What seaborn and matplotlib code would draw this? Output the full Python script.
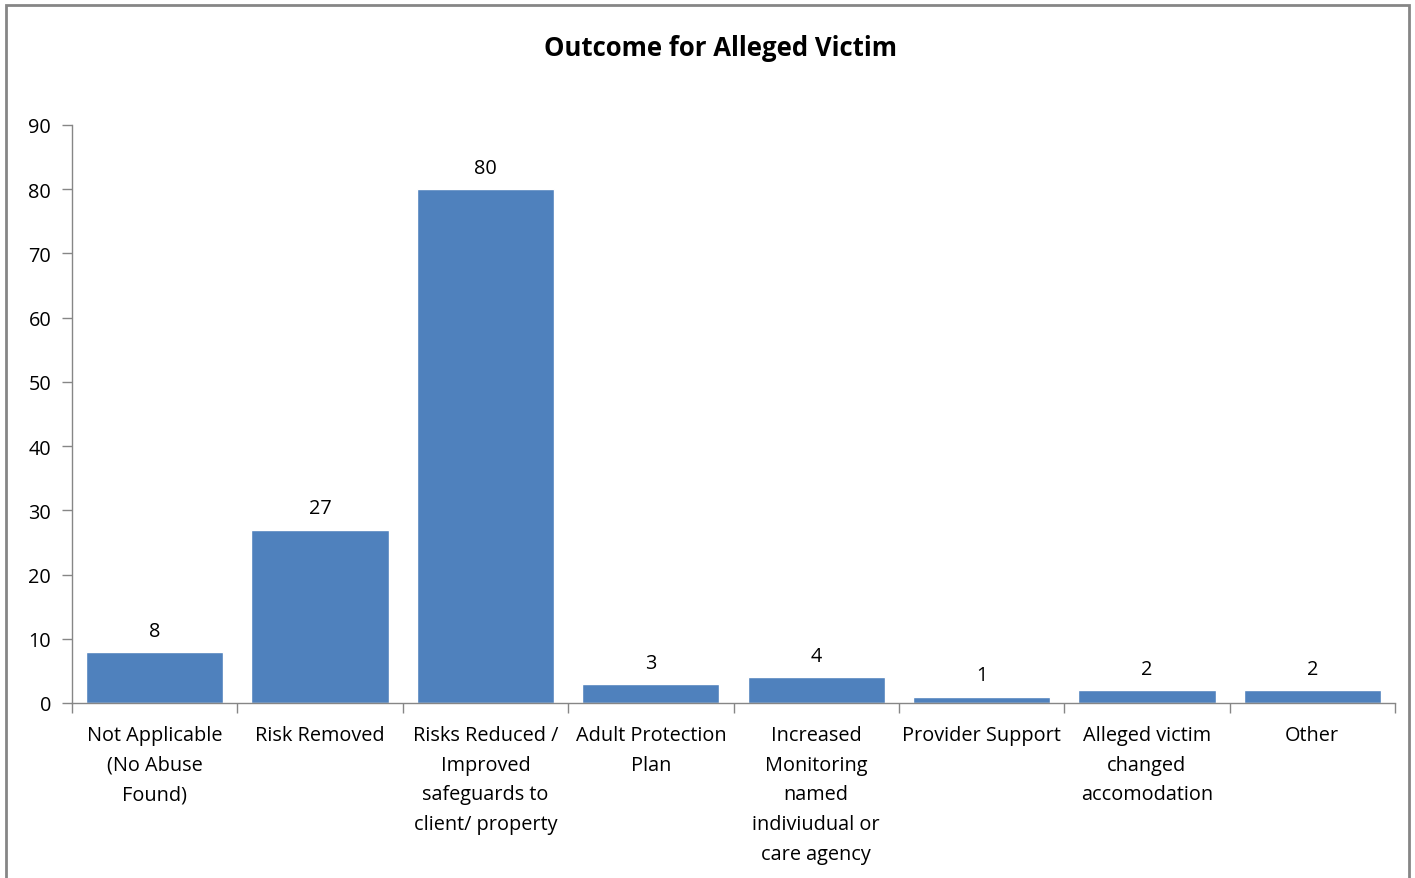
import matplotlib
matplotlib.use("Agg")
import matplotlib.pyplot as plt
import seaborn as sns
import numpy as np
import pandas as pd
from matplotlib.patches import Rectangle

categories = [
    "Not Applicable\n(No Abuse\nFound)",
    "Risk Removed",
    "Risks Reduced /\nImproved\nsafeguards to\nclient/ property",
    "Adult Protection\nPlan",
    "Increased\nMonitoring\nnamed\nindiviudual or\ncare agency",
    "Provider Support",
    "Alleged victim\nchanged\naccomodation",
    "Other",
]
counts = [8, 27, 80, 3, 4, 1, 2, 2]
y_ticks = list(range(0, 100, 10))

sns.set_theme(style="white")
plt.rcParams["font.family"] = ["Open Sans", "DejaVu Sans"]

df = pd.DataFrame({"outcome": categories, "count": counts})

fig = plt.figure(figsize=(14.15, 8.79), dpi=100)
ax = fig.add_axes([72 / 1415, 1 - 704 / 879, (1395 - 72) / 1415, (704 - 126) / 879])

sns.barplot(data=df, x="outcome", y="count", color="#4F81BD", saturation=1,
            width=0.83, ax=ax)

ax.bar_label(ax.containers[0], labels=[str(v) for v in counts], padding=8,
             fontsize=14.3, color="#000000")

ax.set_ylim(0, 90)
ax.set_yticks(y_ticks)
ax.set_xlim(-0.5, len(categories) - 0.5)
ax.set_xlabel("")
ax.set_ylabel("")

ax.tick_params(axis="y", which="major", direction="out", length=7, width=1,
               color="#868686", labelsize=14.3, labelcolor="#000000", pad=8, left=True)
ax.tick_params(axis="x", which="major", length=0, labelsize=14.3,
               labelcolor="#000000", pad=16)
ax.set_xticks(np.arange(-0.5, len(categories), 1), minor=True)
ax.tick_params(axis="x", which="minor", direction="out", length=7, width=1,
               color="#868686", bottom=True)
for lbl in ax.get_xticklabels():
    lbl.set_linespacing(1.64)
    lbl.set_ha("center")

for side in ["top", "right"]:
    ax.spines[side].set_visible(False)
for side in ["left", "bottom"]:
    ax.spines[side].set_color("#868686")
    ax.spines[side].set_linewidth(1)

fig.text(721 / 1415, 1 - 49 / 879, "Outcome for Alleged Victim", ha="center",
         va="center", fontsize=18.5, fontweight="bold", color="#000000")

fig.patches.append(Rectangle((6 / 1415, -0.01), (1409 - 6) / 1415, 1 - 6 / 879 + 0.01,
                             transform=fig.transFigure, fill=False,
                             edgecolor="#868686", linewidth=2))

fig.savefig("out.png", dpi=100, facecolor="white")
